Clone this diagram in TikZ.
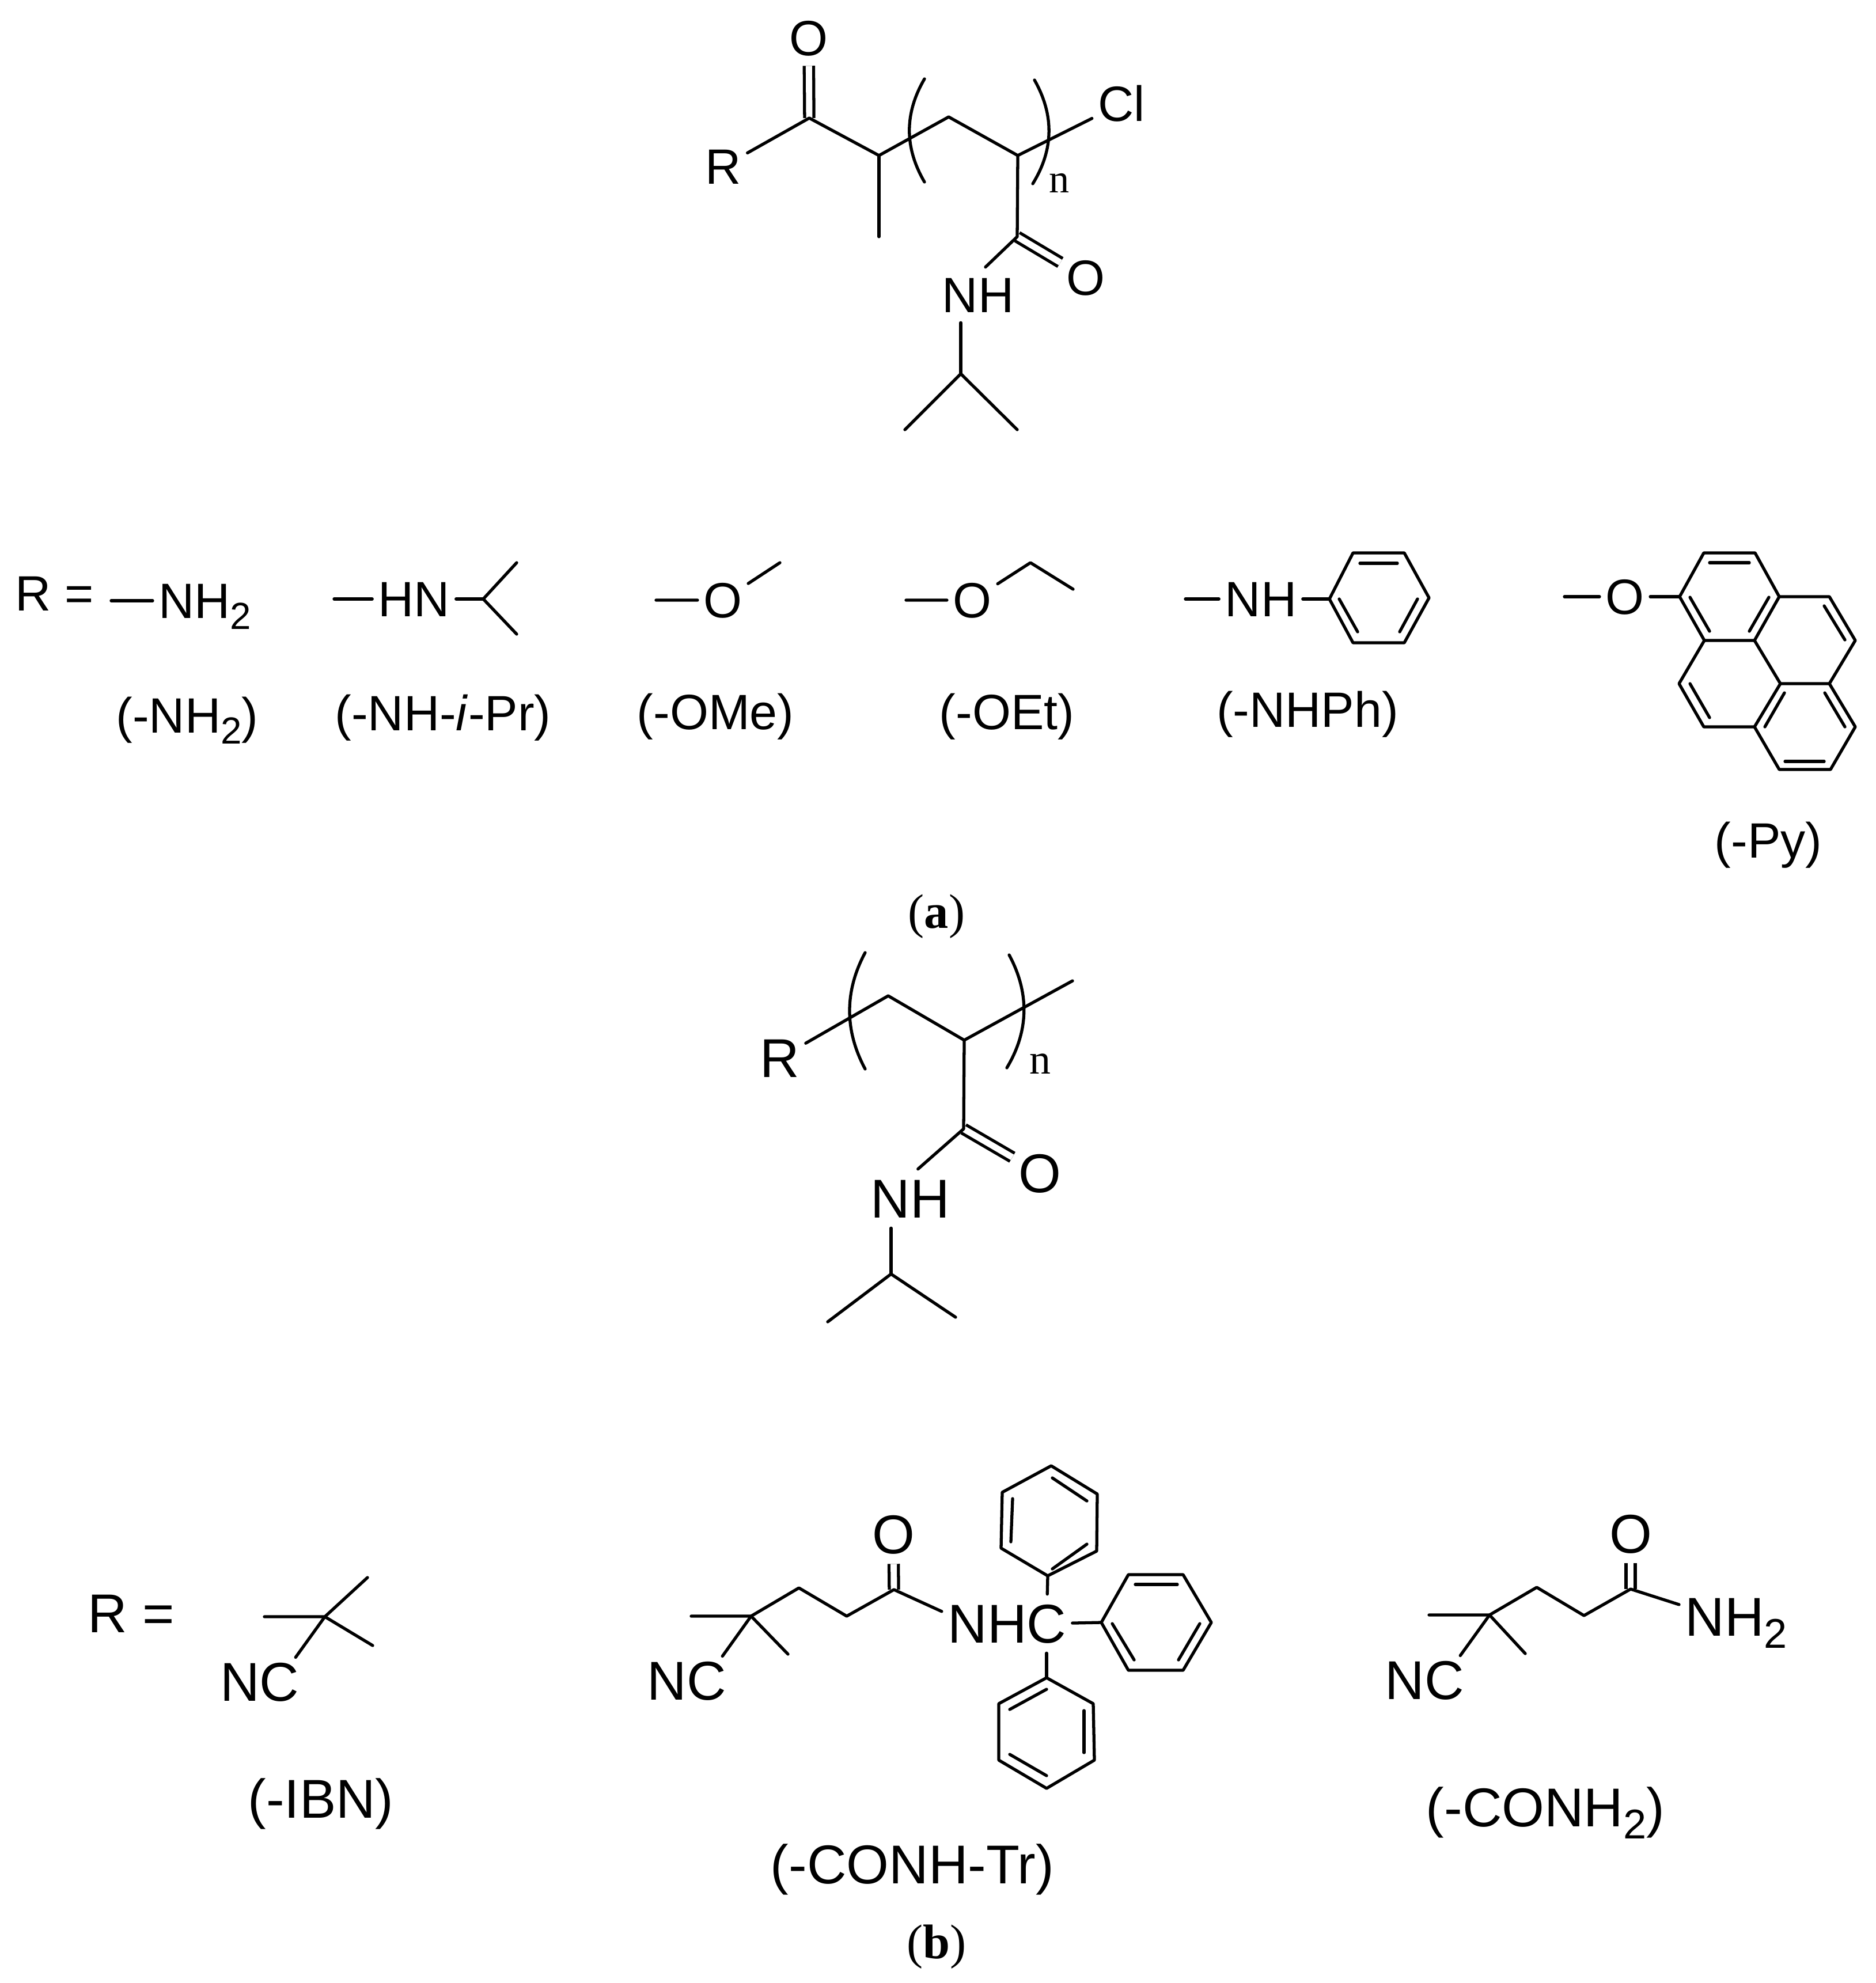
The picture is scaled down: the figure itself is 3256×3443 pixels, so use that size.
\documentclass[tikz,border=0pt]{standalone}
\usepackage{fontspec}
\setmainfont{Liberation Sans}
\newfontfamily\serifpart{Liberation Serif}
\newcommand{\subtwo}{\raisebox{-0.23em}{\scalebox{0.76}{2}}}

\begin{document}
\begin{tikzpicture}[x=0.01cm,y=-0.01cm,
    bond/.style={line width=1.5pt,line join=round,line cap=round},
    dbond/.style={line width=1.5pt,double,double distance=3.1pt,line cap=butt},
    atoma/.style={font=\fontsize{24.5}{28}\selectfont,inner xsep=2.8pt,inner ysep=5pt,text height=0.6cm,text depth=0pt},
    atomb/.style={font=\fontsize{27}{31}\selectfont,inner xsep=2.8pt,inner ysep=5pt,text height=0.66cm,text depth=0pt},
    cyano/.style={atomb,inner xsep=0pt,inner ysep=2.5pt},
    taga/.style={font=\fontsize{24.5}{28}\selectfont,inner sep=0pt,anchor=base},
    tagb/.style={font=\fontsize{27}{31}\selectfont,inner sep=0pt,anchor=base},
    repeatn/.style={font=\serifpart\fontsize{20}{24}\selectfont,inner sep=0pt,anchor=base},
    caption/.style={font=\serifpart\fontsize{24}{28}\selectfont,inner sep=0pt,anchor=base}]
    \useasboundingbox (0,0) rectangle (3256,3443);

    % Polymer a
    \node[atoma] (ra) at (1256,289) {R};
    \node[atoma] (oa1) at (1404,66) {O};
    \node[atoma] (oa2) at (1885,482) {O};
    \node[atoma] (cla) at (1947,180) {Cl};
    \node[atoma] (nha) at (1698,512) {NH};
    \node[repeatn] (na) at (1839,335) {n};
    \coordinate (ca1) at (1405,205); \coordinate (ca2) at (1526,270); \coordinate (ca3) at (1526,411);
    \coordinate (ca4) at (1647,203); \coordinate (ca5) at (1767,270); \coordinate (ca6) at (1766,411);
    \coordinate (ia1) at (1668,649); \coordinate (ia2) at (1571,746); \coordinate (ia3) at (1766,746);
    \draw[dbond] (oa1) -- (ca1);
    \draw[dbond] (oa2) -- (ca6);
    \draw[bond] (ra) -- (ca1) -- (ca2) -- (ca4) -- (ca5) -- (cla);
    \draw[bond] (ca2) -- (ca3);
    \draw[bond] (ca5) -- (ca6) -- (nha.75);
    \draw[bond] (nha.south -| ia1) -- (ia1);
    \draw[bond] (ia2) -- (ia1) -- (ia3);
    \draw[bond] (1605,137) .. controls (1570,197) and (1570,256) .. (1605,316);
    \draw[bond] (1796,139) .. controls (1830,199) and (1830,259) .. (1793,319);

    % R groups of a
    \node[taga,anchor=base west] (eqa) at (26,1060) {R =};
    \node[atoma,anchor=west] (nh2a) at (265,1043) {NH\subtwo};
    \coordinate (b1) at (193,1043);
    \draw[bond] (b1) -- (nh2a);
    \node[taga] (t1) at (325,1272) {(-NH\subtwo)};

    \node[atoma] (hn) at (719,1040) {HN};
    \coordinate (b2) at (580,1040); \coordinate (p1) at (839,1040);
    \coordinate (p2) at (897,977); \coordinate (p3) at (897,1101);
    \draw[bond] (b2) -- (hn) -- (p1);
    \draw[bond] (p2) -- (p1) -- (p3);
    \node[taga] (t2) at (769,1268) {(-NH-\textit{i}-Pr)};

    \node[atoma] (o1) at (1255,1042) {O};
    \coordinate (b3) at (1139,1042); \coordinate (me) at (1354,977);
    \draw[bond] (b3) -- (o1) -- (me);
    \node[taga] (t3) at (1242,1266) {(-OMe)};

    \node[atoma] (o2) at (1688,1042) {O};
    \coordinate (b4) at (1573,1042); \coordinate (et1) at (1789,977); \coordinate (et2) at (1863,1023);
    \draw[bond] (b4) -- (o2) -- (et1) -- (et2);
    \node[taga] (t4) at (1748,1266) {(-OEt)};

    \node[atoma] (nhp) at (2189,1040) {NH};
    \coordinate (b5) at (2058,1040);
    \coordinate (pa) at (2308,1040); \coordinate (pb) at (2349,960); \coordinate (pc) at (2438,960);
    \coordinate (pd) at (2481,1038); \coordinate (pe) at (2438,1116); \coordinate (pf) at (2349,1116);
    \draw[bond] (b5) -- (nhp) -- (pa);
    \draw[bond] (pa) -- (pb) -- (pc) -- (pd) -- (pe) -- (pf) -- cycle;
    \draw[bond] (2361,978) -- (2426,978);
    \draw[bond] (2325,1040) -- (2357,1097);
    \draw[bond] (2461,1040) -- (2430,1097);
    \node[taga] (t5) at (2270,1262) {(-NHPh)};

    % Pyrene
    \node[atoma] (o3) at (2821,1036) {O};
    \coordinate (b6) at (2716,1036);
    \coordinate (ya) at (2916,1036); \coordinate (yb) at (2958,960); \coordinate (yc) at (3047,960);
    \coordinate (yd) at (3089,1036); \coordinate (ye) at (3046,1112); \coordinate (yf) at (2959,1112);
    \coordinate (yg) at (3176,1036); \coordinate (yh) at (3221,1112); \coordinate (yi) at (3176,1187);
    \coordinate (yj) at (3091,1187); \coordinate (yk) at (3221,1262); \coordinate (yl) at (3178,1336);
    \coordinate (ym) at (3089,1336); \coordinate (yn) at (3046,1262); \coordinate (yo) at (2958,1262);
    \coordinate (yp) at (2915,1187);
    \draw[bond] (b6) -- (o3) -- (ya);
    \draw[bond] (ya) -- (yb) -- (yc) -- (yd) -- (ye) -- (yf) -- cycle;
    \draw[bond] (yd) -- (yg) -- (yh) -- (yi) -- (yj) -- (ye);
    \draw[bond] (yf) -- (yp) -- (yo) -- (yn) -- (yj);
    \draw[bond] (yi) -- (yk) -- (yl) -- (ym) -- (yn);
    \draw[bond] (2968,977) -- (3037,977);
    \draw[bond] (2934,1037) -- (2968,1096);
    \draw[bond] (3071,1037) -- (3037,1096);
    \draw[bond] (3167,1052) -- (3203,1111);
    \draw[bond] (2934,1187) -- (2968,1246);
    \draw[bond] (3098,1203) -- (3064,1262);
    \draw[bond] (3168,1203) -- (3203,1262);
    \draw[bond] (3099,1322) -- (3167,1322);
    \node[taga] (t6) at (3070,1489) {(-Py)};

    \node[caption] (capa) at (1626,1611) {(\textbf{a})};

    % Polymer b
    \node[atomb] (rb) at (1354,1837) {R};
    \node[atomb] (ob) at (1805,2037) {O};
    \node[atomb] (nhb) at (1580,2081) {NH};
    \node[repeatn,font=\serifpart\fontsize{21}{25}\selectfont] (nb) at (1806,1864) {n};
    \coordinate (cb1) at (1542,1729); \coordinate (cb2) at (1674,1806);
    \coordinate (cb3) at (1862,1703); \coordinate (cb4) at (1673,1960);
    \coordinate (ib1) at (1547,2212); \coordinate (ib2) at (1437,2295); \coordinate (ib3) at (1659,2287);
    \draw[dbond] (ob) -- (cb4);
    \draw[bond] (rb) -- (cb1) -- (cb2) -- (cb3);
    \draw[bond] (cb2) -- (cb4) -- (nhb.75);
    \draw[bond] (nhb.south -| ib1) -- (ib1);
    \draw[bond] (ib2) -- (ib1) -- (ib3);
    \draw[bond] (1502,1654) .. controls (1466,1721) and (1466,1789) .. (1502,1856);
    \draw[bond] (1752,1658) .. controls (1787,1723) and (1787,1789) .. (1748,1854);

    % R groups of b
    \node[tagb,anchor=base west] (eqb) at (152,2834) {R =};
    \node[cyano] (nc1) at (451,2920) {NC};
    \coordinate (q1) at (564,2807); \coordinate (q2) at (459,2807);
    \coordinate (q3) at (638,2739); \coordinate (q4) at (647,2857);
    \draw[bond] (q2) -- (q1) -- (q3);
    \draw[bond] (q1) -- (q4);
    \draw[bond] (q1) -- ([xshift=-2pt]nc1.north east);
    \node[tagb] (t7) at (557,3156) {(-IBN)};

    \node[cyano] (nc2) at (1192,2918) {NC};
    \node[atomb] (o4) at (1551,2664) {O};
    \node[atomb] (nht) at (1714,2819) {NH};
    \node[atomb] (ct) at (1817,2819) {C};
    \coordinate (s1) at (1304,2806); \coordinate (s2) at (1200,2806); \coordinate (s3) at (1368,2872);
    \coordinate (s4) at (1387,2757); \coordinate (s5) at (1470,2806); \coordinate (s6) at (1552,2760);
    \draw[dbond] (o4) -- (s6);
    \draw[bond] (s2) -- (s1) -- (s4) -- (s5) -- (s6) -- (nht.165);
    \draw[bond] (s1) -- (s3);
    \draw[bond] (s1) -- ([xshift=-2pt]nc2.north east);
    % Trityl rings
    \coordinate (ua) at (1819,2736); \coordinate (ub) at (1904,2693); \coordinate (uc) at (1905,2594);
    \coordinate (ud) at (1825,2545); \coordinate (ue) at (1740,2591); \coordinate (uf) at (1738,2688);
    \draw[bond] (ct) -- (ua);
    \draw[bond] (ua) -- (ub) -- (uc) -- (ud) -- (ue) -- (uf) -- cycle;
    \draw[bond] (1827,2566) -- (1887,2606);
    \draw[bond] (1758,2602) -- (1755,2677);
    \draw[bond] (1827,2724) -- (1887,2681);
    \coordinate (va) at (1912,2817); \coordinate (vb) at (1959,2734); \coordinate (vc) at (2054,2734);
    \coordinate (vd) at (2103,2817); \coordinate (ve) at (2054,2900); \coordinate (vf) at (1959,2900);
    \draw[bond] (ct) -- (va);
    \draw[bond] (va) -- (vb) -- (vc) -- (vd) -- (ve) -- (vf) -- cycle;
    \draw[bond] (1971,2751) -- (2044,2751);
    \draw[bond] (1931,2819) -- (1969,2882);
    \draw[bond] (2083,2819) -- (2046,2882);
    \coordinate (wa) at (1817,2913); \coordinate (wb) at (1898,2958); \coordinate (wc) at (1900,3056);
    \coordinate (wd) at (1817,3105); \coordinate (we) at (1734,3056); \coordinate (wf) at (1734,2958);
    \draw[bond] (ct) -- (wa);
    \draw[bond] (wa) -- (wb) -- (wc) -- (wd) -- (we) -- (wf) -- cycle;
    \draw[bond] (1817,2933) -- (1753,2968);
    \draw[bond] (1882,2970) -- (1882,3043);
    \draw[bond] (1753,3046) -- (1817,3083);
    \node[tagb] (t8) at (1584,3270) {(-CONH-Tr)};

    \node[cyano] (nc3) at (2473,2917) {NC};
    \node[atomb] (o5) at (2831,2663) {O};
    \node[atomb,anchor=west] (nh2b) at (2915,2807) {NH\subtwo};
    \coordinate (k1) at (2586,2804); \coordinate (k2) at (2481,2804); \coordinate (k3) at (2648,2871);
    \coordinate (k4) at (2668,2756); \coordinate (k5) at (2750,2805); \coordinate (k6) at (2831,2759);
    \draw[dbond] (o5) -- (k6);
    \draw[bond] (k2) -- (k1) -- (k4) -- (k5) -- (k6) -- (nh2b.168);
    \draw[bond] (k1) -- (k3);
    \draw[bond] (k1) -- ([xshift=-2pt]nc3.north east);
    \node[tagb] (t9) at (2683,3171) {(-CONH\subtwo)};

    \node[caption] (capb) at (1626,3400) {(\textbf{b})};
\end{tikzpicture}
\end{document}
